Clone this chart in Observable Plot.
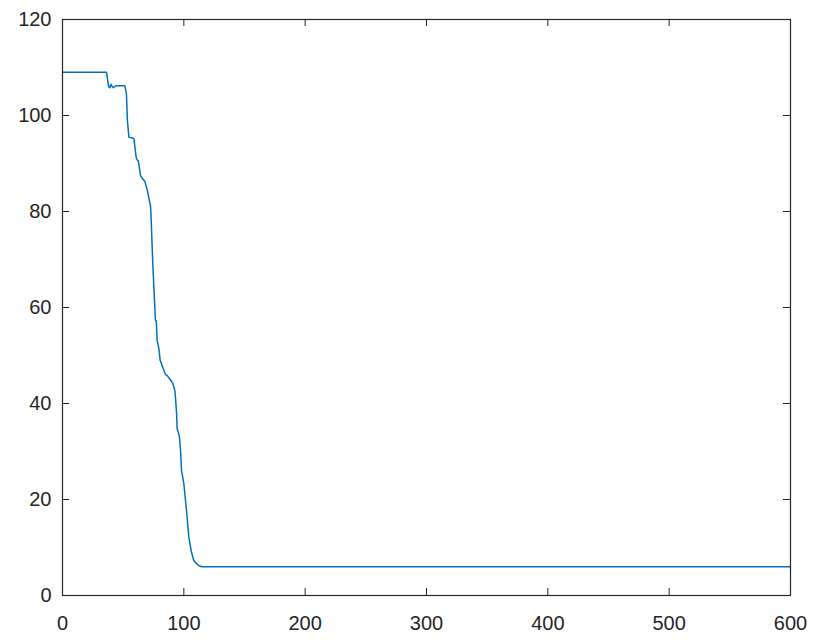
<!DOCTYPE html>
<html>
<head>
<meta charset="utf-8">
<script src="https://cdn.jsdelivr.net/npm/d3@7"></script>
<script src="https://cdn.jsdelivr.net/npm/@observablehq/plot@0.6"></script>
<style>
  html, body { margin: 0; padding: 0; background: #fff; }
</style>
</head>
<body>
<div id="chart"></div>
<script>
const xValues = [0, 36.3, 38, 39, 40, 41, 42, 44, 51.4, 52.7, 53.5, 54.7, 58.8, 60.7, 61.5, 62.5, 64.3, 66, 67.8, 69.8, 72.5, 72.9, 74.4, 75.8, 76.6, 77.3, 78, 79.4, 80.5, 81.6, 83.5, 85, 86.3, 89, 90.9, 92.6, 93.1, 94, 94.5, 95.5, 96.4, 97.3, 98.1, 100, 102.2, 104.1, 106.3, 108.2, 110.2, 112.4, 115, 600];
const yValues = [109, 109, 106, 105.8, 106.5, 106, 105.8, 106.2, 106.2, 104.5, 99, 95.5, 95.2, 91.3, 90.8, 90.5, 87.5, 86.8, 86.3, 84.5, 81.2, 79.6, 69.2, 61.5, 57.3, 57.2, 53.1, 51.5, 49, 48.3, 46.9, 46, 45.8, 44.9, 44.2, 42.7, 41.3, 38, 34.7, 34, 33, 30.2, 26, 23.3, 17.7, 12.2, 9, 7.3, 6.7, 6.2, 6, 6];
const xTicks = [0, 100, 200, 300, 400, 500, 600];
const yTicks = [0, 20, 40, 60, 80, 100, 120];

const data = xValues.map((x, i) => ({x, y: yValues[i]}));

const W = 830, H = 640;
const mL = 62, mR = 40, mT = 19, mB = 45;
const pw = W - mL - mR, ph = H - mT - mB;
const tick = 7;
const axisColor = "#262626";

const chart = Plot.plot({
  width: W,
  height: H,
  marginLeft: mL,
  marginRight: mR,
  marginTop: mT,
  marginBottom: mB,
  style: {background: "#fff", fontFamily: "'Liberation Sans', Arial, sans-serif", fontSize: "20px", color: axisColor},
  x: {domain: [0, 600]},
  y: {domain: [0, 120]},
  marks: [
    Plot.axisX(xTicks, {tickSize: 0, tickPadding: 20, fontSize: 20, label: null, fill: axisColor}),
    Plot.axisY(yTicks, {tickSize: 0, tickPadding: 11, fontSize: 20, label: null, fill: axisColor}),
    Plot.tickX(xTicks, {x: d => d, insetTop: ph - tick, stroke: axisColor}),
    Plot.tickX(xTicks, {x: d => d, insetBottom: ph - tick, stroke: axisColor}),
    Plot.tickY(yTicks, {y: d => d, insetRight: pw - tick, stroke: axisColor}),
    Plot.tickY(yTicks, {y: d => d, insetLeft: pw - tick, stroke: axisColor}),
    Plot.line(data, {x: "x", y: "y", stroke: "#0072BD", strokeWidth: 1.5}),
    Plot.frame({stroke: axisColor, strokeWidth: 1.2})
  ]
});
document.getElementById("chart").appendChild(chart);
</script>
</body>
</html>
